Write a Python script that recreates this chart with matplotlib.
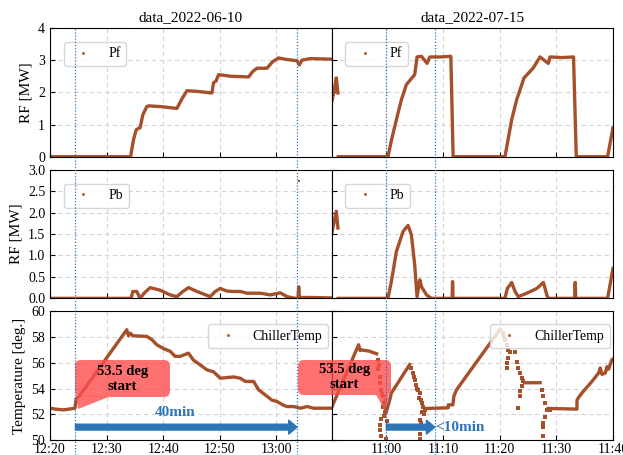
import numpy as np
import pandas as pd
import matplotlib
matplotlib.use("Agg")
import matplotlib.pyplot as plt
import matplotlib.dates as mdates
from matplotlib.lines import Line2D
from matplotlib.patches import FancyBboxPatch, Polygon, FancyArrowPatch
from matplotlib import transforms

plt.rcParams['font.family'] = 'serif'
plt.rcParams['font.serif'] = ['Liberation Serif', 'DejaVu Serif']

TRACE = '#A5502A'
BLUE = '#2E75B6'

DAY1 = '2022-06-10'
DAY2 = '2022-07-15'

# ---------------- data_2022-06-10 ----------------
pf1_t = ['12:20:00', '12:34:15', '12:34:20', '12:34:45', '12:35:13', '12:35:38', '12:35:56', '12:36:24',
         '12:37:07', '12:37:30', '12:40:00', '12:42:25', '12:43:20', '12:44:12', '12:46:00', '12:48:37',
         '12:48:54', '12:49:20', '12:49:48', '12:52:00', '12:55:06', '12:55:50', '12:56:35', '12:58:21',
         '12:59:20', '13:00:24', '13:01:30', '13:03:40', '13:04:04', '13:04:32', '13:06:00', '13:09:45']
pf1_v = [0, 0, 0.1, 0.52, 0.83, 0.88, 0.9, 1.3,
         1.56, 1.58, 1.55, 1.5, 1.8, 2.05, 2.03, 1.98,
         2.3, 2.35, 2.55, 2.5, 2.48, 2.65, 2.75, 2.75,
         2.95, 3.07, 3.03, 2.98, 2.85, 3.0, 3.05, 3.03]

pb1_t = ['12:20:00', '12:34:20', '12:34:38', '12:35:20', '12:35:56', '12:36:38', '12:37:42', '12:39:28',
         '12:41:14', '12:42:25', '12:43:29', '12:44:29', '12:45:58', '12:48:19', '12:49:12', '12:50:05',
         '12:51:16', '12:52:27', '12:53:38', '12:54:49', '12:57:10', '12:58:56', '13:00:42', '13:01:53',
         '13:03:22', '13:03:50', '13:03:57', '13:04:05', '13:06:00', '13:09:45']
pb1_v = [0, 0, 0.16, 0.16, 0.0, 0.12, 0.25, 0.19,
         0.08, 0.04, 0.16, 0.25, 0.16, 0.04, 0.16, 0.23,
         0.17, 0.16, 0.16, 0.12, 0.12, 0.08, 0.13, 0.04,
         0.0, 0.0, 0.27, 0.02, 0.02, 0.01]
pb1_out_t = ['13:04:04']
pb1_out_v = [2.74]

ch1_t = ['12:20:00', '12:21:00', '12:22:21', '12:23:20', '12:24:25', '12:24:36', '12:25:10', '12:33:34',
         '12:33:52', '12:34:10', '12:34:40', '12:37:07', '12:38:00', '12:38:53', '12:40:04', '12:41:14',
         '12:42:07', '12:43:00', '12:44:29', '12:45:22', '12:46:32', '12:47:44', '12:48:54', '12:50:05',
         '12:52:27', '12:53:38', '12:54:31', '12:55:59', '12:56:52', '12:57:45', '12:58:21', '12:59:13',
         '13:00:07', '13:01:17', '13:01:53', '13:03:04', '13:04:15', '13:05:26', '13:06:36', '13:09:45']
ch1_v = [52.47, 52.4, 52.34, 52.4, 52.47, 53.2, 53.4, 58.57,
         58.1, 58.3, 58.1, 58.05, 57.8, 57.4, 57.1, 56.9,
         56.5, 56.5, 56.75, 56.2, 55.84, 55.45, 55.3, 54.8,
         54.9, 54.8, 54.55, 54.55, 53.9, 53.6, 53.4, 53.1,
         52.99, 52.7, 52.6, 52.6, 52.47, 52.6, 52.47, 52.47]

# ---------------- data_2022-07-15 ----------------
pf2_t = ['10:50:19', '10:50:50', '10:51:10', '10:51:27', '10:51:28', '10:51:30', '11:00:17', '11:00:53',
         '11:01:46', '11:02:39', '11:03:32', '11:05:00', '11:05:25', '11:06:12', '11:07:11', '11:07:40',
         '11:09:30', '11:11:23', '11:11:47', '11:20:56', '11:22:07', '11:23:00', '11:24:18', '11:25:56',
         '11:27:07', '11:28:35', '11:28:53', '11:31:00', '11:33:02', '11:33:31', '11:39:03', '11:40:00']
pf2_v = [1.67, 2.1, 2.45, 1.98, np.nan, 0, 0, 0.5,
         1.15, 1.77, 2.24, 2.55, 3.1, 3.12, 2.9, 3.1,
         3.1, 3.12, 0, 0, 1.15, 1.77, 2.45, 2.76,
         3.1, 2.9, 3.1, 3.08, 3.1, 0, 0, 0.9]

pb2_t = ['10:50:19', '10:51:10', '10:51:27', '10:51:28', '10:51:30', '11:00:17', '11:00:53', '11:01:46',
         '11:02:57', '11:03:50', '11:04:25', '11:05:00', '11:05:25', '11:05:54', '11:06:12', '11:07:05',
         '11:07:58', '11:11:36', '11:11:41', '11:11:46', '11:20:56', '11:21:21', '11:22:07', '11:22:43',
         '11:23:17', '11:24:47', '11:26:33', '11:27:43', '11:28:19', '11:28:35', '11:33:15', '11:33:20',
         '11:33:25', '11:39:03', '11:40:00']
pb2_v = [1.48, 2.03, 1.64, np.nan, 0, 0, 0.39, 1.09,
         1.56, 1.7, 1.48, 0.78, 0.04, 0.43, 0.27, 0.08,
         0, 0, 0.39, 0, 0, 0.23, 0.37, 0.16,
         0.04, 0.12, 0.23, 0.37, 0.08, 0, 0, 0.37,
         0, 0, 0.7]

ch2_t = ['10:50:19', '10:55:06', '10:55:22', '10:55:38', '10:57:02', '10:58:17', '10:58:18',
         '11:00:00', '11:00:35', '11:00:53', '11:04:07', '11:04:08',
         '11:06:52', '11:10:54', '11:10:55', '11:11:44', '11:11:55', '11:12:23', '11:20:04', '11:20:05',
         '11:24:23', '11:27:08', '11:27:09',
         '11:28:33', '11:33:38', '11:33:39', '11:33:55', '11:34:31', '11:36:17', '11:37:27', '11:37:45',
         '11:38:03', '11:38:38', '11:38:56', '11:39:13', '11:39:49', '11:40:00']
ch2_v = [52.5, 57.4, 56.95, 57.0, 56.9, 56.7, np.nan,
         52.2, 53.1, 53.65, 55.86, np.nan,
         52.45, 52.5, 52.73, 52.73, 53.4, 53.9, 58.6, np.nan,
         54.45, 54.45, np.nan,
         52.45, 52.4, 53.1, 53.3, 53.65, 54.55, 55.2, 55.6,
         55.1, 55.2, 55.7, 55.5, 56.25, 56.3]

# scattered chiller readings during the fast drops
ch2_pts_t = ['10:58:31', '10:58:33', '10:58:44', '10:58:49', '10:58:50', '10:59:07', '10:59:15', '10:59:24',
             '10:59:31', '10:59:42', '10:59:25', '10:59:43', '10:59:37', '10:59:07', '10:58:49', '10:58:50',
             '10:59:06', '10:59:58', '10:59:53', '11:00:03',
             '11:04:25', '11:04:42', '11:04:50', '11:05:00', '11:05:19', '11:05:27', '11:05:35', '11:05:43',
             '11:05:54', '11:06:04', '11:06:12', '11:06:13', '11:06:20', '11:06:29', '11:06:36', '11:06:47',
             '11:05:55', '11:05:53', '11:05:54', '11:05:52',
             '11:20:35', '11:20:46', '11:20:56', '11:21:14', '11:21:31', '11:21:49', '11:21:30', '11:21:14',
             '11:21:15', '11:22:42', '11:23:00', '11:23:18', '11:23:35', '11:23:53', '11:24:11', '11:23:54',
             '11:23:36', '11:23:34', '11:23:18',
             '11:27:26', '11:27:43', '11:28:01', '11:28:19', '11:28:54', '11:28:02', '11:27:44', '11:27:42',
             '11:27:43']
ch2_pts_v = [55.5, 56.2, 55.8, 54.9, 54.4, 53.9, 53.6, 53.4,
             52.9, 53.0, 52.6, 52.2, 51.9, 51.6, 51.2, 50.8,
             50.3, 50.1, 52.5, 51.5,
             55.6, 55.2, 54.9, 54.7, 54.3, 54.0, 53.9, 53.3,
             53.65, 51.3, 53.1, 52.2, 52.9, 52.6, 52.0, 52.34,
             51.56, 51.0, 50.5, 50.1,
             58.3, 58.0, 57.8, 57.4, 57.0, 56.8, 56.4, 56.0,
             55.6, 56.8, 56.1, 55.6, 55.2, 54.8, 54.55, 54.2,
             53.8, 53.4, 52.5,
             53.9, 53.4, 52.9, 52.3, 52.3, 51.8, 51.3, 51.0,
             50.3]

titles = ['data_2022-06-10', 'data_2022-07-15']
xlims = [('12:20:00', '13:09:45'), ('10:50:19', '11:40:00')]
marks = [('12:24:30', '13:03:40'), ('11:00:00', '11:08:33')]
span_labels = ['40min', '<10min']


def tt(day, lst):
    return pd.to_datetime([f'{day} {s}' for s in lst]).to_pydatetime()


W, H = 623, 455
fig, axes = plt.subplots(3, 2, figsize=(W / 100, H / 100), dpi=100, sharex='col', sharey='row')
fig.subplots_adjust(left=50 / W, right=613 / W, top=1 - 28 / H, bottom=1 - 440 / H,
                    wspace=0.0, hspace=13 / 129)

days = [DAY1, DAY2]
pf = [(pf1_t, pf1_v), (pf2_t, pf2_v)]
pb = [(pb1_t, pb1_v), (pb2_t, pb2_v)]
ch = [(ch1_t, ch1_v), (ch2_t, ch2_v)]

for c in range(2):
    d = days[c]
    axes[0, c].plot(tt(d, pf[c][0]), pf[c][1], color=TRACE, lw=2.4)
    axes[1, c].plot(tt(d, pb[c][0]), pb[c][1], color=TRACE, lw=2.4)
    axes[2, c].plot(tt(d, ch[c][0]), ch[c][1], color=TRACE, lw=2.4)

axes[1, 0].plot(tt(DAY1, pb1_out_t), pb1_out_v, ls='none', marker='s', ms=2, mew=0, color=TRACE)
axes[2, 1].plot(tt(DAY2, ch2_pts_t), ch2_pts_v, ls='none', marker='s', ms=2.2, mew=0, color=TRACE)

ylims = [(0, 4), (0, 3), (50, 60)]
yticks = [np.arange(0, 5, 1), np.arange(0, 3.01, 0.5), np.arange(50, 61, 2)]
names = ['Pf', 'Pb', 'ChillerTemp']

for r in range(3):
    for c in range(2):
        ax = axes[r, c]
        ax.set_ylim(*ylims[r])
        ax.set_yticks(yticks[r])
        ax.grid(True, ls=(0, (4, 3)), color='#d4d4d4', lw=0.8)
        ax.tick_params(direction='in', labelsize=10, length=3.5)
        ax.tick_params(axis='x', pad=2)
        ax.xaxis.set_major_locator(mdates.MinuteLocator(byminute=range(0, 60, 10)))
        ax.xaxis.set_major_formatter(mdates.DateFormatter('%H:%M'))
        h = Line2D([], [], ls='none', marker='.', ms=2.5, color='#C0643A')
        if r < 2:
            ax.legend([h], [names[r]], loc='upper left', borderaxespad=1.0, fontsize=10,
                      handlelength=2.0)
        else:
            ax.legend([h], [names[r]], loc='upper right', bbox_to_anchor=(0.988, 0.9),
                      borderaxespad=0, fontsize=10)

axes[1, 0].yaxis.set_major_formatter(plt.FormatStrFormatter('%.1f'))
axes[0, 0].set_ylabel('RF [MW]', fontsize=11)
axes[1, 0].set_ylabel('RF [MW]', fontsize=11)
axes[2, 0].set_ylabel('Temperature [deg.]', fontsize=11)

for c in range(2):
    axes[0, c].set_title(titles[c], fontsize=11, pad=5)
    axes[2, c].set_xlim(tt(days[c], xlims[c]))

# vertical dotted markers running from the top panel down to the figure bottom
top_f = 1 - 28 / H
for c in range(2):
    tr = transforms.blended_transform_factory(axes[2, c].transData, fig.transFigure)
    for m in tt(days[c], marks[c]):
        x = mdates.date2num(m)
        fig.add_artist(Line2D([x, x], [0, top_f], transform=tr, color=BLUE, lw=0.9, ls=(0, (1, 1.5))))

# span arrows
for c in range(2):
    ax = axes[2, c]
    a, b = tt(days[c], marks[c])
    arr = FancyArrowPatch((mdates.date2num(a), 51.0), (mdates.date2num(b), 51.0),
                          arrowstyle='simple,head_length=0.6,head_width=1.0,tail_width=0.42',
                          mutation_scale=10, color=BLUE, shrinkA=0, shrinkB=0, zorder=5)
    ax.add_patch(arr)

axes[2, 0].text(tt(DAY1, ['12:42:07'])[0], 52.1, span_labels[0], color=BLUE, fontsize=11,
                fontweight='bold', ha='center', va='center')
axes[2, 1].text(tt(DAY2, ['11:08:40'])[0], 51.0, span_labels[1], color=BLUE, fontsize=11,
                fontweight='bold', ha='left', va='center')

# speech-bubble callouts, placed in pixel coordinates (y pointing down)
px = transforms.Affine2D().scale(1 / W, -1 / H).translate(0, 1) + fig.transFigure
bubbles = [
    dict(box=(75, 360, 95, 37), tail=[(76, 396.5), (110, 396.5), (78, 409)]),
    dict(box=(298, 360, 93, 35), tail=[(376, 394.5), (389, 394.5), (385, 411)]),
]
for bb in bubbles:
    x0, y0, w, h = bb['box']
    fig.add_artist(FancyBboxPatch((x0, y0), w, h, boxstyle='round,pad=0,rounding_size=6',
                                  transform=px, facecolor='#FF4D4D', edgecolor='none', alpha=0.8))
    fig.add_artist(Polygon(bb['tail'], closed=True, transform=px, facecolor='#FF4D4D',
                           edgecolor='none', alpha=0.8))
    fig.text(x0 + w / 2, y0 + h / 2, '53.5 deg\nstart', transform=px, ha='center', va='center',
             fontsize=10.5, fontweight='bold', linespacing=1.2)

fig.savefig('out.png', dpi=100)
